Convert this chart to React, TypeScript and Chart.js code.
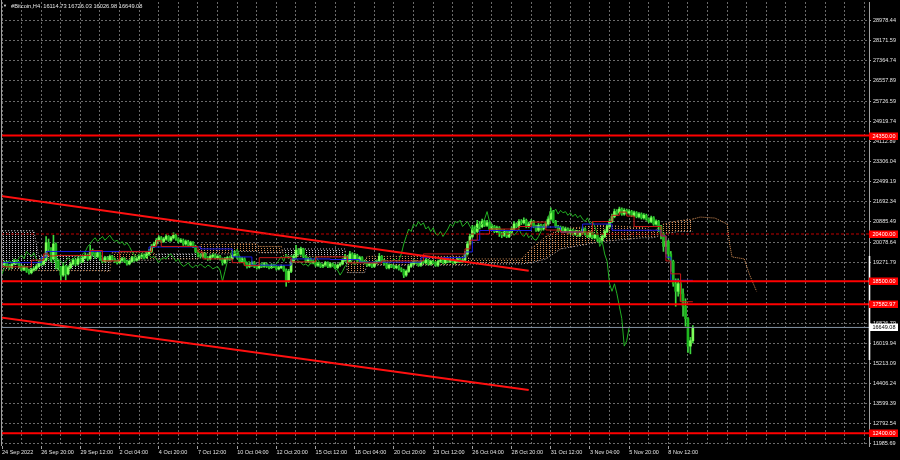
import React, { useEffect, useRef } from 'react';
import { Chart, registerables } from 'chart.js';

Chart.register(...registerables);

// ---------------- DATA ----------------
const SYMBOL = '#Bitcoin,H4';
const LAST_OHLC = [16114.73, 16726.03, 16026.98, 16649.08];

const FIRST_OPEN = 19150;
const CLOSES = [
  19180, 19250, 19120, 19060, 19200, 19310, 19230, 19100, 18980, 19050, 18920, 18850, 18960, 19010,
  19100, 19250, 19200, 19350, 20050, 19800, 19400, 20000, 19300, 19050, 18750, 19100, 18800,
  19050, 19200, 19350, 19200, 19400, 19300, 19450, 19550, 19400, 19700, 19600, 19500, 19650, 19400,
  19300, 19450, 19350, 19500, 19400, 19300, 19250, 19350, 19400, 19300, 19200, 19300, 19450, 19350, 19400, 19500, 19550, 19450, 19600,
  19700, 19900, 20000, 20150, 20250, 20100, 20200, 20300, 20150, 20250, 20350, 20200, 20100,
  20150, 20000, 20100, 19950, 20050, 19900, 19700, 19550,
  19500, 19600, 19450, 19400, 19500, 19550, 19450, 19500, 19400, 19250, 19400, 19450, 19400,
  19550, 19600, 19450, 19300, 19400, 19200, 19100, 19150,
  19250, 19100, 19050, 19150, 19100,
  19200, 19100, 19050, 19150, 19100, 19000, 19050, 19100,
  18950, 18500, 18900,
  19300, 19500, 19750, 19600, 19800, 19500, 19300, 19400, 19250, 19300, 19150,
  19200, 19100, 19150, 19250, 19100, 19200, 19150, 19050, 19150, 19200, 19350, 19500, 19300, 19600, 19400, 19550, 19350, 19450, 19300,
  19250, 19150, 19200, 19100, 19250, 19300, 19500, 19350, 19200, 19050, 19150, 19100, 19050, 19100, 19000, 18950, 18750, 18900, 19100,
  19200, 19300, 19250, 19150, 19300, 19250, 19350, 19200, 19300, 19250, 19150, 19300, 19350, 19250, 19400, 19300, 19350, 19250, 19300, 19400, 19300, 19350,
  19600, 20000, 20300, 20600, 20500, 20800, 20700, 20900, 20750, 20850, 20600, 20700, 20500, 20650, 20400,
  20350, 20500, 20300, 20450,
  20600, 20800, 20700, 20900,
  20850, 20950, 20700, 20800, 20900,
  20700, 20550, 20750, 20600, 20700, 20800,
  21000, 21300, 20900, 20700, 20550,
  20650, 20500, 20600, 20450,
  20550, 20400, 20500, 20350, 20450, 20600, 20400,
  20300, 20450, 20250, 20350, 20200, 20150,
  20300, 20500, 20700, 20900,
  21100, 21300, 21250, 21400, 21200, 21350, 21250,
  21300, 21150, 21250, 21100, 21200, 21050, 21150,
  21000, 20900, 21050, 20800, 20900,
  20700, 20400, 19900, 20100, 19600, 19300, 18400, 18100, 18400, 18000, 17500, 17000, 15900, 16114.73, 16649.08,
];
const HIGHS = [
  19260, 19320, 19300, 19180, 19270, 19390, 19360, 19280, 19150, 19120, 19090, 18990, 19030, 19080,
  19170, 19320, 19330, 19450, 20300, 20200, 19850, 20350, 20050, 19350, 19100, 19200, 19150,
  19120, 19280, 19420, 19400, 19460, 19450, 19520, 19640, 19600, 19950, 19800, 19650, 19720, 19700,
  19450, 19500, 19490, 19560, 19540, 19440, 19350, 19400, 19460, 19450, 19340, 19360, 19500, 19490, 19460, 19560, 19620, 19600, 19660,
  19780, 19980, 20080, 20220, 20330, 20300, 20260, 20380, 20340, 20310, 20450, 20400, 20250,
  20220, 20200, 20160, 20150, 20110, 20100, 19950, 19750,
  19610, 19660, 19650, 19500, 19560, 19610, 19600, 19560, 19540, 19440, 19460, 19510, 19500,
  19620, 19720, 19650, 19500, 19460, 19450, 19250, 19220,
  19310, 19300, 19150, 19200, 19200,
  19260, 19240, 19150, 19210, 19190, 19140, 19100, 19160,
  19130, 19000, 18980,
  19380, 19580, 19950, 19820, 19880, 19830, 19550, 19460, 19440, 19360, 19340,
  19260, 19240, 19200, 19300, 19280, 19250, 19240, 19190, 19200, 19260, 19410, 19580, 19540, 19700, 19650, 19620, 19590, 19510, 19490,
  19350, 19290, 19260, 19240, 19300, 19360, 19620, 19540, 19390, 19240, 19200, 19190, 19150, 19150, 19140, 19050, 18990, 18960, 19160,
  19260, 19360, 19340, 19290, 19350, 19340, 19410, 19390, 19350, 19340, 19290, 19350, 19410, 19390, 19460, 19440, 19400, 19390, 19350, 19460, 19440, 19410,
  19700, 20100, 20400, 20750, 20700, 20950, 20900, 21000, 20950, 20950, 20900, 20800, 20750, 20720, 20700,
  20480, 20580, 20550, 20520,
  20680, 20900, 20850, 20980,
  20980, 21050, 21000, 20880, 20980,
  20950, 20760, 20820, 20800, 20780, 20880,
  21100, 21450, 21350, 20950, 20750,
  20720, 20700, 20680, 20650,
  20620, 20600, 20560, 20550, 20520, 20680, 20650,
  20450, 20520, 20500, 20400, 20400, 20250,
  20380, 20580, 20780, 20980,
  21200, 21400, 21380, 21480, 21450, 21420, 21400,
  21380, 21350, 21320, 21300, 21260, 21250, 21220,
  21200, 21050, 21120, 21100, 20970,
  20950, 20750, 20450, 20300, 20150, 19700, 19350, 18600, 18600, 18500, 18200, 17800, 17050, 16250, 16726.03,
];
const LOWS = [
  19080, 19130, 19060, 18980, 19020, 19160, 19180, 19040, 18920, 18930, 18860, 18790, 18800, 18910,
  18950, 19060, 19130, 19150, 19300, 19700, 19300, 19350, 19000, 18950, 18500, 18700, 18550,
  18760, 19000, 19150, 19130, 19150, 19240, 19250, 19400, 19330, 19380, 19540, 19420, 19450, 19340,
  19240, 19260, 19300, 19310, 19350, 19250, 19190, 19200, 19300, 19250, 19150, 19160, 19260, 19300, 19310, 19360, 19450, 19400, 19420,
  19550, 19660, 19850, 19950, 20100, 20050, 20060, 20150, 20100, 20100, 20200, 20140, 20040,
  20050, 19940, 19950, 19900, 19900, 19850, 19650, 19480,
  19430, 19450, 19400, 19340, 19350, 19450, 19400, 19400, 19350, 19150, 19200, 19350, 19340,
  19360, 19500, 19400, 19240, 19250, 19150, 19030, 19050,
  19100, 19050, 18990, 19000, 19050,
  19060, 19050, 19000, 19010, 19050, 18950, 18960, 19010,
  18900, 18300, 18450,
  18850, 19250, 19450, 19550, 19550, 19450, 19250, 19250, 19200, 19200, 19100,
  19100, 19050, 19050, 19110, 19050, 19060, 19100, 19000, 19000, 19100, 19160, 19300, 19250, 19260, 19350, 19360, 19300, 19300, 19250,
  19200, 19100, 19100, 19050, 19060, 19200, 19260, 19300, 19150, 19000, 19000, 19050, 19000, 19000, 18950, 18880, 18650, 18700, 18860,
  19060, 19150, 19200, 19100, 19100, 19200, 19200, 19150, 19150, 19200, 19100, 19100, 19250, 19200, 19200, 19250, 19250, 19200, 19200, 19250, 19250, 19250,
  19300, 19550, 19950, 20250, 20400, 20450, 20600, 20650, 20700, 20700, 20550, 20550, 20450, 20450, 20300,
  20250, 20300, 20250, 20250,
  20400, 20550, 20650, 20650,
  20780, 20800, 20650, 20650, 20750,
  20650, 20500, 20500, 20550, 20550, 20650,
  20750, 20950, 20850, 20650, 20500,
  20500, 20450, 20450, 20400,
  20400, 20350, 20350, 20300, 20300, 20400, 20350,
  20250, 20250, 20200, 20200, 20100, 20050,
  20100, 20250, 20450, 20650,
  20850, 21050, 21150, 21200, 21150, 21150, 21200,
  21200, 21100, 21100, 21050, 21050, 21000, 21000,
  20950, 20850, 20850, 20750, 20750,
  20500, 20200, 19700, 19600, 19400, 18900, 18300, 17500, 17900, 17700, 17100, 16700, 15650, 15590, 16026.98,
];

// Ichimoku: Tenkan-sen and Kijun-sen as step breakpoints (bar index, price)
const TENKAN_X = [0, 12, 17, 19, 22, 36, 41, 48, 61, 63, 65, 80, 82, 85, 94, 99, 105, 118, 128, 141, 155, 172, 189, 191, 194, 199, 211, 216, 222, 228, 241, 249, 252, 255, 258, 269, 271, 273, 277, 280, 282];
const TENKAN_Y = [19360, 19080, 19350, 19600, 19520, 19540, 19735, 19320, 19700, 19900, 20130, 19900, 19680, 19400, 19400, 19250, 19130, 19450, 19280, 19480, 19240, 19320, 19600, 19800, 20150, 20400, 20600, 20700, 20880, 20560, 20480, 20900, 21150, 21280, 21120, 20700, 20320, 19320, 18800, 17680, 17680];
const KIJUN_X = [0, 16, 18, 60, 81, 94, 102, 118, 134, 146, 171, 189, 192, 195, 216, 228, 237, 249, 269, 271, 273, 278, 282];
const KIJUN_Y = [19040, 19250, 19460, 19700, 19880, 19800, 19480, 19150, 19400, 19375, 19270, 19450, 19680, 20150, 20540, 20680, 20480, 20800, 20550, 20330, 19470, 18540, 18540];
const CHIKOU_SHIFT = 26;

// Kumo (Senkou span A / B), x already shifted forward
const KUMO_X = [0, 13, 15, 40, 44, 45, 62, 63, 80, 81, 93, 94, 104, 105, 114, 115, 140, 141, 148, 149, 190, 191, 212, 216, 222, 228, 245, 262, 266, 270, 276, 282];
const SPAN_A = [18950, 18950, 18930, 18930, 18900, 19650, 19650, 19400, 19400, 19980, 19980, 20000, 20000, 19900, 19900, 19500, 19500, 19300, 19300, 19500, 19500, 19400, 19400, 19800, 20300, 20600, 20750, 20650, 20500, 20800, 20930, 21000];
const SPAN_B = [20530, 20530, 19520, 19520, 19480, 19350, 19350, 19600, 19600, 19600, 19600, 19700, 19700, 19650, 19650, 19800, 19800, 18850, 18850, 19150, 19150, 19200, 19200, 19250, 19400, 19800, 20100, 20250, 20250, 20400, 20500, 20500];
const SPAN_A_FWD_X = [282, 285, 291, 296, 297, 298, 303, 305, 308];
const SPAN_A_FWD_Y = [21000, 21080, 21040, 20800, 20000, 19480, 19400, 18800, 18100];

// Trend lines (bar index, price)
const TREND_X = [-1, 215];
const TREND_UPPER_Y = [21930, 18927];
const TREND_LOWER_Y = [17052, 14138];

// Horizontal levels
const LEVELS = [24350.0, 20400.0, 18500.0, 17582.97, 12400.0];
const DASHED_LEVEL = 20400.0;
const LAST_PRICE = 16649.08;
const AXIS_MARK_RANGE = [15340, 19520];

// Axes
const Y_TICKS = [28978.44, 28171.59, 27364.74, 26557.89, 25726.59, 24919.74, 24112.89, 23306.04, 22499.19, 21692.34, 20885.49, 20078.64, 19271.79, 16826.79, 16019.94, 15213.09, 14406.24, 13599.39, 12792.54, 11985.69];
const DATE_LABELS = ['24 Sep 2022', '26 Sep 20:00', '29 Sep 12:00', '2 Oct 04:00', '4 Oct 20:00', '7 Oct 12:00', '10 Oct 04:00', '12 Oct 20:00', '15 Oct 12:00', '18 Oct 04:00', '20 Oct 20:00', '23 Oct 12:00', '26 Oct 04:00', '28 Oct 20:00', '31 Oct 12:00', '3 Nov 04:00', '5 Nov 20:00', '8 Nov 12:00'];
const LABEL_STEP = 16;
const GRID_STEP = 8;

// ---------------- VIEW ----------------
const X_MIN = -0.41;
const X_MAX = 353.9;
const Y_MIN = 11890;
const Y_MAX = 29713;

const FONT = '"Liberation Sans", Arial, sans-serif';
const TXT = '#e4e4e4';
const GRID = '#6a6a6a';
const FRAME = '#a0a0a0';
const TAN = 'rgba(228,152,92,0.95)';
const THISTLE = 'rgba(205,200,210,0.95)';

export default function App() {
  const ref = useRef<HTMLCanvasElement>(null);

  useEffect(() => {
    document.body.style.margin = '0';
    document.body.style.background = '#000';
    const canvas = ref.current as HTMLCanvasElement;
    const c2d = canvas.getContext('2d') as CanvasRenderingContext2D;

    const dots = (color: string) => {
      const t = document.createElement('canvas');
      t.width = 3;
      t.height = 2;
      const g = t.getContext('2d') as CanvasRenderingContext2D;
      g.fillStyle = color;
      g.fillRect(0, 0, 1, 1);
      return c2d.createPattern(t, 'repeat') as CanvasPattern;
    };
    const tanDots = dots(TAN);
    const greyDots = dots(THISTLE);

    const opens = CLOSES.map((_, i) => (i === 0 ? FIRST_OPEN : CLOSES[i - 1]));
    const wicks = CLOSES.map((_, i) => ({ x: i, y: [LOWS[i], HIGHS[i]] }));
    const bodies = CLOSES.map((c, i) => ({ x: i, y: [opens[i], c] }));
    const bodyColors = CLOSES.map((c, i) => (c >= opens[i] ? '#7dff5a' : '#1fb81f'));

    const pts = (xs: number[], ys: number[]) => xs.map((x, i) => ({ x, y: ys[i] }));
    const hline = (v: number) => [{ x: X_MIN, y: v }, { x: X_MAX, y: v }];
    const kumoColor = (sc: any) => {
      const a = SPAN_A[sc.p0DataIndex] + SPAN_A[sc.p1DataIndex];
      const b = SPAN_B[sc.p0DataIndex] + SPAN_B[sc.p1DataIndex];
      return a >= b ? tanDots : greyDots;
    };

    const lineBase = { type: 'line', pointRadius: 0, borderWidth: 1, fill: false, tension: 0 };

    const datasets: any[] = [
      ...LEVELS.map((v) => ({
        ...lineBase,
        data: hline(v),
        borderColor: v === DASHED_LEVEL ? '#c00000' : '#ff0000',
        borderWidth: v === DASHED_LEVEL ? 1 : 2,
        borderDash: v === DASHED_LEVEL ? [3, 2] : [],
        order: 0,
      })),
      { ...lineBase, data: pts(TREND_X, TREND_UPPER_Y), borderColor: '#ff1010', borderWidth: 2, order: 0 },
      { ...lineBase, data: pts(TREND_X, TREND_LOWER_Y), borderColor: '#ff1010', borderWidth: 2, order: 0 },
      { ...lineBase, data: hline(LAST_PRICE), borderColor: '#8492a3', order: 1 },
      { ...lineBase, data: pts(TENKAN_X, TENKAN_Y), stepped: 'after', borderColor: '#c81818', order: 2 },
      { ...lineBase, data: pts(KIJUN_X, KIJUN_Y), stepped: 'after', borderColor: '#1a1ae6', order: 2 },
      { ...lineBase, data: CLOSES.map((c, i) => ({ x: i - CHIKOU_SHIFT, y: c })), borderColor: '#22b022', order: 3 },
      {
        type: 'bar', data: bodies, backgroundColor: bodyColors, barThickness: 2, minBarLength: 1,
        grouped: false, borderWidth: 0, order: 4,
      },
      {
        type: 'bar', data: wicks, backgroundColor: '#3fd83f', barThickness: 1,
        grouped: false, borderWidth: 0, order: 5,
      },
      {
        ...lineBase, data: pts(KUMO_X, SPAN_A), borderColor: TAN, borderDash: [1, 2],
        backgroundColor: tanDots, fill: '+1', segment: { backgroundColor: kumoColor }, order: 7,
      },
      { ...lineBase, data: pts(KUMO_X, SPAN_B), borderColor: THISTLE, borderDash: [1, 2], order: 7 },
      { ...lineBase, data: pts(SPAN_A_FWD_X, SPAN_A_FWD_Y), borderColor: TAN, borderDash: [1, 1], order: 7 },
    ];

    const overlay = {
      id: 'mtOverlay',
      afterDraw(chart: any) {
        const { ctx, chartArea, scales } = chart;
        const y = scales.y;
        ctx.save();
        // left frame
        ctx.strokeStyle = FRAME;
        ctx.lineWidth = 1;
        ctx.beginPath();
        ctx.moveTo(chartArea.left + 0.5, chartArea.top - 2);
        ctx.lineTo(chartArea.left + 0.5, chartArea.bottom);
        ctx.stroke();
        // white marker on price scale
        ctx.strokeStyle = '#ffffff';
        ctx.lineWidth = 1.6;
        ctx.beginPath();
        ctx.moveTo(chartArea.right + 0.5, y.getPixelForValue(AXIS_MARK_RANGE[1]));
        ctx.lineTo(chartArea.right + 0.5, y.getPixelForValue(AXIS_MARK_RANGE[0]));
        ctx.stroke();
        // level labels
        ctx.font = `5.5px ${FONT}`;
        ctx.textBaseline = 'middle';
        ctx.textAlign = 'left';
        const box = (v: number, bg: string, fg: string) => {
          const py = Math.round(y.getPixelForValue(v));
          ctx.fillStyle = bg;
          ctx.fillRect(chartArea.right, py - 3.5, 29, 7.5);
          ctx.fillStyle = fg;
          ctx.fillText(v.toFixed(2), chartArea.right + 3.5, py + 0.3);
        };
        LEVELS.forEach((v) => box(v, '#ff0000', '#ffffff'));
        box(LAST_PRICE, '#ffffff', '#000000');
        // title
        ctx.fillStyle = TXT;
        ctx.font = `4px ${FONT}`;
        ctx.fillText('▼', 3, 6);
        ctx.font = `5.7px ${FONT}`;
        ctx.fillText(`${SYMBOL}  ${LAST_OHLC.map((v) => v.toFixed(2)).join(' ')}`, 11, 6);
        ctx.restore();
      },
    };

    const xTicks: number[] = [];
    for (let v = 0; v <= X_MAX; v += GRID_STEP) xTicks.push(v);
    const xLabel = (v: number) => (v % LABEL_STEP === 0 ? DATE_LABELS[v / LABEL_STEP] || '' : '');

    const chart = new Chart(canvas, {
      type: 'line',
      data: { datasets },
      plugins: [overlay],
      options: {
        responsive: false,
        maintainAspectRatio: false,
        animation: false,
        events: [],
        layout: { padding: { left: 1, top: 2, right: 0, bottom: 0 } },
        plugins: { legend: { display: false }, tooltip: { enabled: false }, title: { display: false } },
        scales: {
          x: {
            type: 'linear',
            min: X_MIN,
            max: X_MAX,
            offset: false,
            afterBuildTicks: (s: any) => { s.ticks = xTicks.map((value) => ({ value })); },
            afterFit: (s: any) => { s.height = 14; s.paddingLeft = 0; s.paddingRight = 0; },
            ticks: {
              autoSkip: false, maxRotation: 0, minRotation: 0, align: 'start', padding: 0,
              color: TXT, font: { size: 5.5, family: FONT },
              callback: (v: any) => xLabel(Number(v)),
            },
            grid: {
              color: GRID, lineWidth: 1, drawTicks: true, tickLength: 3, offset: false,
              tickColor: (c: any) => (c.tick && xLabel(c.tick.value) ? FRAME : 'rgba(0,0,0,0)'),
            },
            border: { display: false, dash: [2, 2] },
          },
          y: {
            type: 'linear',
            position: 'right',
            min: Y_MIN,
            max: Y_MAX,
            afterBuildTicks: (s: any) => { s.ticks = Y_TICKS.map((value) => ({ value })); },
            afterFit: (s: any) => { s.width = 31; s.paddingTop = 0; s.paddingBottom = 0; },
            ticks: {
              autoSkip: false, padding: 2, color: TXT, font: { size: 5.5, family: FONT },
              callback: (v: any) => Number(v).toFixed(2),
            },
            grid: { color: GRID, lineWidth: 1, tickLength: 2, tickColor: FRAME },
            border: { display: true, color: FRAME, width: 1, dash: [2, 2] },
          },
        },
      } as any,
    } as any);

    return () => chart.destroy();
  }, []);

  return (
    <div style={{ position: 'fixed', left: 0, top: 0, width: 900, height: 460, background: '#000' }}>
      <canvas ref={ref} width={900} height={460} style={{ display: 'block', width: 900, height: 460 }} />
    </div>
  );
}
